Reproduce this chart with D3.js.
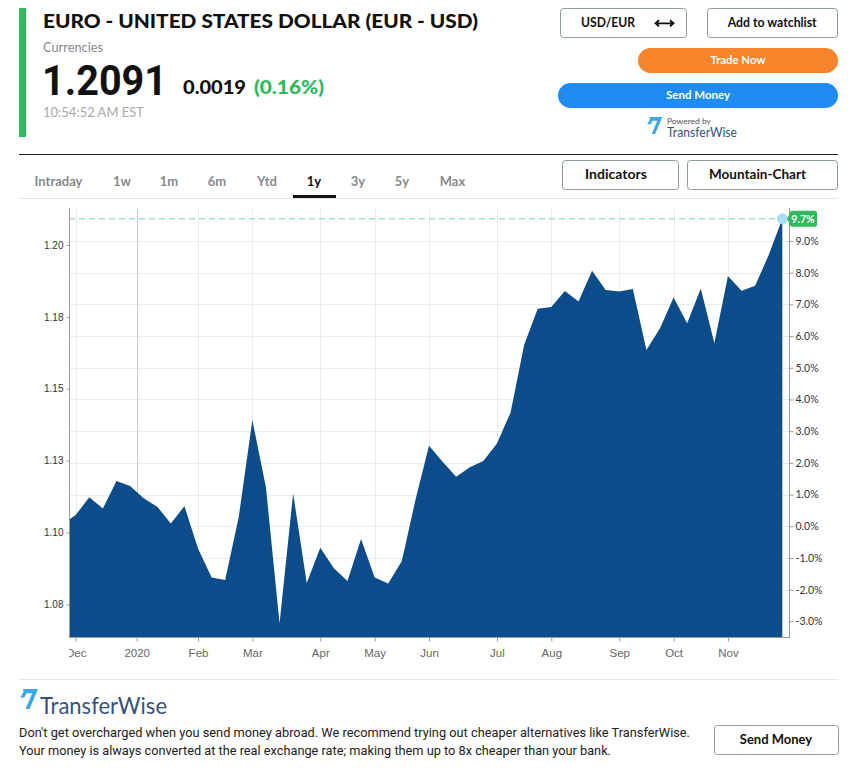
<!DOCTYPE html>
<html><head><meta charset="utf-8">
<script src="https://cdn.jsdelivr.net/npm/d3@7"></script>
<style>
html,body{margin:0;padding:0;background:#fff;}
svg{display:block;font-family:Lato,"Open Sans",sans-serif;}
</style></head><body>
<svg id="c" width="858" height="770"></svg>
<script>
// ---------- data ----------
const titleText = "EURO - UNITED STATES DOLLAR (EUR - USD)";
const lastPrice = 1.2091;
const changeAbs = "0.0019";
const changePct = "(0.16%)";
const timeText = "10:54:52 AM EST";
const periodTabs = ["Intraday","1w","1m","6m","Ytd","1y","3y","5y","Max"];
const tabCenters = [58.5,122,169,217,267,314,358,402,452.5];
const activeTab = "1y";
const weekIndex = [-0.45].concat(d3.range(0,53));
const prices = [1.1046,1.1061,1.1123,1.1084,1.1179,1.1162,1.1119,1.1090,1.1032,1.1092,
  1.0945,1.0844,1.0835,1.1055,1.1391,1.1157,1.0684,1.1136,1.0825,1.0947,
  1.0876,1.0832,1.0978,1.0844,1.0823,1.0901,1.1113,1.1302,1.1246,1.1194,
  1.1227,1.1249,1.1310,1.1417,1.1652,1.1778,1.1784,1.1840,1.1803,1.1910,
  1.1843,1.1838,1.1847,1.1635,1.1710,1.1817,1.1728,1.1849,1.1658,1.1892,
  1.1841,1.1858,1.1965,1.2091];
const monthTickPos = [0,4.49,9,13,18,22,26,31,35,40,44,48];
const monthLabels = ["Dec","2020","Feb","Mar","Apr","May","Jun","Jul","Aug","Sep","Oct","Nov"];
const priceTicks = [1.075,1.10,1.125,1.15,1.175,1.20];
const priceTickLabels = ["1.08","1.10","1.13","1.15","1.18","1.20"];
const pctTicks = [-3,-2,-1,0,1,2,3,4,5,6,7,8,9];
const yearChangePct = 9.7;
const basePrice = lastPrice/(1+yearChangePct/100);

const svg = d3.select("#c");

// ---------- header ----------
svg.append("rect").attr("x",19).attr("y",8).attr("width",7).attr("height",129).attr("fill","#2dbb5b");
svg.append("text").attr("x",43).attr("y",27.5).attr("font-size",18).attr("font-weight",900)
  .attr("fill","#111").attr("textLength",435).attr("lengthAdjust","spacingAndGlyphs").text(titleText);
svg.append("text").attr("x",43).attr("y",52).attr("font-size",12.5).attr("fill","#8a8a8a")
  .attr("textLength",60).attr("lengthAdjust","spacingAndGlyphs").text("Currencies");
svg.append("text").attr("x",42).attr("y",95).attr("font-size",43).attr("font-weight",700)
  .attr("font-family","Roboto, sans-serif")
  .attr("fill","#111").attr("textLength",125).attr("lengthAdjust","spacingAndGlyphs").text(lastPrice.toFixed(4));
svg.append("text").attr("x",183).attr("y",94).attr("font-size",19).attr("font-weight",900)
  .attr("fill","#111").attr("textLength",63).attr("lengthAdjust","spacingAndGlyphs").text(changeAbs);
svg.append("text").attr("x",254).attr("y",94).attr("font-size",19).attr("font-weight",900)
  .attr("fill","#2dbb5b").attr("textLength",70).attr("lengthAdjust","spacingAndGlyphs").text(changePct);
svg.append("text").attr("x",43).attr("y",117).attr("font-size",13).attr("fill","#aaa")
  .attr("textLength",101).attr("lengthAdjust","spacingAndGlyphs").text(timeText);

function outlineButton(x,y,w,h,label,tx,tw,anchor){
  svg.append("rect").attr("x",x+0.5).attr("y",y+0.5).attr("width",w).attr("height",h).attr("rx",3)
    .attr("fill","#fff").attr("stroke","#8c9ca2");
  const t = svg.append("text").attr("x",tx).attr("y",y+h/2+4.6).attr("font-size",13).attr("font-weight",700)
    .attr("fill","#111").text(label);
  if(anchor) t.attr("text-anchor",anchor);
  if(tw) t.attr("textLength",tw).attr("lengthAdjust","spacingAndGlyphs");
}
outlineButton(560,8,126,29,"USD/EUR",581,54);
// double arrow
svg.append("path").attr("d","M656,23.3 L673,23.3 M659,20.3 L655.5,23.3 L659,26.3 M670,20.3 L673.5,23.3 L670,26.3")
  .attr("stroke","#111").attr("stroke-width",1.8).attr("fill","none");
outlineButton(707,8,130,29,"Add to watchlist",727.7,89);

svg.append("rect").attr("x",638).attr("y",48).attr("width",200).attr("height",25).attr("rx",12.5).attr("fill","#f7832a");
svg.append("text").attr("x",738).attr("y",64.3).attr("text-anchor","middle").attr("font-size",12).attr("font-weight",700)
  .attr("fill","#fff").attr("textLength",55).attr("lengthAdjust","spacingAndGlyphs").text("Trade Now");
svg.append("rect").attr("x",558).attr("y",83).attr("width",280).attr("height",25).attr("rx",12.5).attr("fill","#1e8cf2");
svg.append("text").attr("x",698).attr("y",99.3).attr("text-anchor","middle").attr("font-size",12).attr("font-weight",700)
  .attr("fill","#fff").attr("textLength",64).attr("lengthAdjust","spacingAndGlyphs").text("Send Money");

function twIcon(x,y,s){
  svg.append("path").attr("transform",`translate(${x},${y}) scale(${s})`)
    .attr("d","M3,0 L18,0 L9.5,20 L5.5,20 L12.2,4.3 L6.5,4.3 L4.3,8.5 L0.3,8.5 L3.5,3 Z")
    .attr("fill","#37a8ec");
}
twIcon(647,117,0.85);
svg.append("text").attr("x",667).attr("y",123.5).attr("font-size",8).attr("fill","#555")
  .attr("textLength",44).attr("lengthAdjust","spacingAndGlyphs").text("Powered by");
svg.append("text").attr("x",667).attr("y",136.7).attr("font-size",12.5).attr("fill","#37517e")
  .attr("textLength",70).attr("lengthAdjust","spacingAndGlyphs").text("TransferWise");

svg.append("line").attr("x1",19).attr("x2",838).attr("y1",154.5).attr("y2",154.5).attr("stroke","#222");

// ---------- tabs ----------
periodTabs.forEach((t,i)=>{
  svg.append("text").attr("x",tabCenters[i]).attr("y",186).attr("text-anchor","middle")
    .attr("font-size",13).attr("font-weight",700).attr("fill",t===activeTab?"#111":"#8a8a8a").text(t);
});
svg.append("line").attr("x1",19).attr("x2",838).attr("y1",198.5).attr("y2",198.5).attr("stroke","#e6e6e6");
svg.append("rect").attr("x",293).attr("y",195).attr("width",43).attr("height",3).attr("fill","#111");
outlineButton(562,160,116,29,"Indicators",585,62);
outlineButton(687,160,150,29,"Mountain-Chart",709,97);

// ---------- chart ----------
const L=69, R=789, T=209, B=637;
const x = d3.scaleLinear().domain([-0.45,52]).range([69.6,782.3]);
const y = d3.scaleLinear().domain([1.0637,1.2125]).range([B,T]);
const yPct = d3.scaleLinear()
  .domain([(1.0637/basePrice-1)*100,(1.2125/basePrice-1)*100]).range([B,T]);

const g = svg.append("g");
// grid
g.selectAll(".hg").data(pctTicks).join("line")
  .attr("x1",L).attr("x2",R).attr("y1",d=>Math.round(yPct(d))+0.5).attr("y2",d=>Math.round(yPct(d))+0.5)
  .attr("stroke","#ebebeb");
g.selectAll(".vg").data(monthTickPos).join("line")
  .attr("x1",d=>Math.round(x(d))+0.5).attr("x2",d=>Math.round(x(d))+0.5).attr("y1",T).attr("y2",B)
  .attr("stroke",(d,i)=>monthLabels[i]==="2020"?"#c9c9c9":"#ebebeb");

// area
const area = d3.area().x((d,i)=>x(weekIndex[i])).y0(B).y1(d=>y(d));
g.append("path").datum(prices).attr("d",area).attr("fill","#0b4c8a");

// dashed last-price line
const yl = y(lastPrice);
g.append("line").attr("x1",L).attr("x2",x(52)).attr("y1",yl).attr("y2",yl)
  .attr("stroke","#a6e0c0").attr("stroke-width",1.6).attr("stroke-dasharray","6,4");

// frame lines
g.append("line").attr("x1",L+0.5).attr("x2",L+0.5).attr("y1",T-1).attr("y2",B+1).attr("stroke","#9a9a9a");
g.append("line").attr("x1",R+0.5).attr("x2",R+0.5).attr("y1",T-1).attr("y2",B+1).attr("stroke","#9a9a9a");
g.append("line").attr("x1",L).attr("x2",R+1).attr("y1",B+0.5).attr("y2",B+0.5).attr("stroke","#9a9a9a");

// left axis
const la = svg.append("g").attr("transform",`translate(${L+0.5},0)`)
  .call(d3.axisLeft(y).tickValues(priceTicks).tickFormat((d,i)=>priceTickLabels[i]).tickSize(3).tickSizeOuter(0));
la.select(".domain").remove();
la.selectAll("line").attr("stroke","#9a9a9a");
la.selectAll("text").attr("font-family","Liberation Sans, Arial, sans-serif").attr("font-size",10).attr("fill","#333").attr("x",-6);

// right axis
const ra = svg.append("g").attr("transform",`translate(${R+0.5},0)`)
  .call(d3.axisRight(yPct).tickValues(pctTicks).tickFormat(d=>d.toFixed(1)+"%").tickSize(4).tickSizeOuter(0));
ra.select(".domain").remove();
ra.selectAll("line").attr("stroke","#9a9a9a");
ra.selectAll("text").attr("font-family","Lato, sans-serif").attr("font-size",10.5).attr("fill","#333").attr("x",6);

// bottom axis (labels clipped at the plot's left edge)
svg.append("clipPath").attr("id","xclip").append("rect").attr("x",69).attr("y",-2).attr("width",790).attr("height",40);
const ba = svg.append("g").attr("transform",`translate(0,${B+0.5})`).attr("clip-path","url(#xclip)")
  .call(d3.axisBottom(x).tickValues(monthTickPos).tickFormat((d,i)=>monthLabels[i]).tickSize(4).tickSizeOuter(0));
ba.select(".domain").remove();
ba.selectAll("line").attr("stroke","#9a9a9a");
ba.selectAll("text").attr("font-family","Liberation Sans, Arial, sans-serif").attr("font-size",11.5).attr("fill","#666").attr("dy","1.1em");

// last point marker + tag
svg.append("circle").attr("cx",x(52)).attr("cy",yl).attr("r",5.5).attr("fill","#a8dcf7");
svg.append("path").attr("d",`M787,${yl} L791,${yl-8} L815,${yl-8} Q817,${yl-8} 817,${yl-6} L817,${yl+6} Q817,${yl+8} 815,${yl+8} L791,${yl+8} Z`)
  .attr("fill","#2dbb5b");
svg.append("text").attr("x",803).attr("y",yl+3.8).attr("text-anchor","middle").attr("font-size",10.5)
  .attr("font-weight",700).attr("fill","#fff").text(yearChangePct.toFixed(1)+"%");

// ---------- bottom promo ----------
svg.append("line").attr("x1",19).attr("x2",838).attr("y1",679.5).attr("y2",679.5).attr("stroke","#e6e6e6");
twIcon(20,689,1.0);
svg.append("text").attr("x",40).attr("y",714).attr("font-size",24).attr("fill","#37517e")
  .attr("textLength",127).attr("lengthAdjust","spacingAndGlyphs").text("TransferWise");
svg.append("text").attr("x",19).attr("y",737).attr("font-size",13).attr("fill","#222")
  .attr("font-family","Roboto, sans-serif").attr("textLength",671).attr("lengthAdjust","spacingAndGlyphs")
  .text("Don't get overcharged when you send money abroad. We recommend trying out cheaper alternatives like TransferWise.");
svg.append("text").attr("x",19).attr("y",755).attr("font-size",13).attr("fill","#222")
  .attr("font-family","Roboto, sans-serif").attr("textLength",592).attr("lengthAdjust","spacingAndGlyphs")
  .text("Your money is always converted at the real exchange rate; making them up to 8x cheaper than your bank.");
outlineButton(714,725,124,29,"Send Money",776,null,"middle");
</script>
</body></html>
